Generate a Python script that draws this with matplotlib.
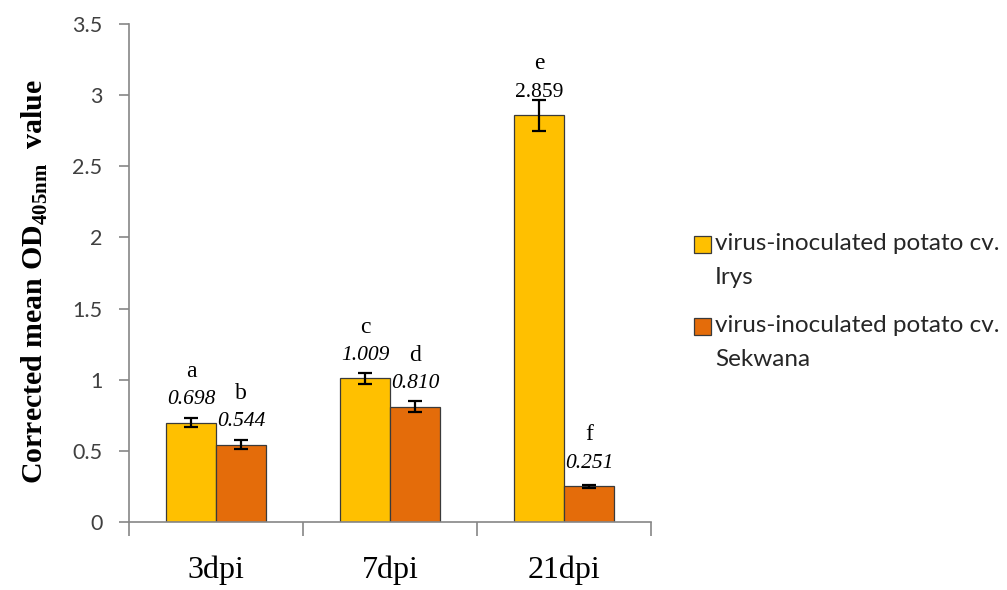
import numpy as np
import matplotlib
matplotlib.use("Agg")
from matplotlib import pyplot as plt
from matplotlib.patches import Rectangle

categories = ["3dpi", "7dpi", "21dpi"]
irys = [0.698, 1.009, 2.859]
sekwana = [0.544, 0.810, 0.251]
irys_err = [0.03, 0.04, 0.11]
sekwana_err = [0.03, 0.04, 0.01]
irys_letters = ["a", "c", "e"]
sekwana_letters = ["b", "d", "f"]
irys_style = ["italic", "italic", "normal"]
sekwana_style = ["italic", "italic", "italic"]
series_names = ["virus-inoculated potato cv.\nIrys", "virus-inoculated potato cv.\nSekwana"]
yticks = [0, 0.5, 1, 1.5, 2, 2.5, 3, 3.5]

plt.rcParams['mathtext.fontset'] = 'custom'
plt.rcParams['mathtext.bf'] = 'Liberation Serif:bold'
plt.rcParams['mathtext.rm'] = 'Liberation Serif'

serif = "Liberation Serif"
sans = "Lato"
axis_gray = "#868686"
colors = ["#FFC000", "#E46C0A"]
edge = "#3a3a3a"

W, H = 1007, 590
fig = plt.figure(figsize=(W / 100, H / 100), dpi=100)
ax = fig.add_axes([129 / W, 68 / H, 522 / W, 498 / H])

x = np.arange(len(categories))
w = 0.287
ekw = dict(ecolor="black", elinewidth=1.6, capsize=4.8, capthick=1.6)
ax.bar(x - w / 2, irys, w, color=colors[0], edgecolor=edge, linewidth=0.9,
       yerr=irys_err, error_kw=ekw, zorder=2)
ax.bar(x + w / 2, sekwana, w, color=colors[1], edgecolor=edge, linewidth=0.9,
       yerr=sekwana_err, error_kw=ekw, zorder=2)

# value labels and significance letters
for xs, vals, lets, sty in [(x - w / 2, irys, irys_letters, irys_style),
                            (x + w / 2, sekwana, sekwana_letters, sekwana_style)]:
    for xi, v, l, st in zip(xs, vals, lets, sty):
        ax.annotate("%.3f" % v, (xi, v), xytext=(0, 16.5), textcoords="offset points",
                    ha="center", va="center", fontsize=15.5, family=serif, style=st, zorder=3)
        ax.annotate(l, (xi, v), xytext=(0, 37), textcoords="offset points",
                    ha="center", va="center", fontsize=17, family=serif, zorder=3)

ax.set_xlim(-0.5, len(categories) - 0.5)
ax.set_ylim(0, 3.5)
ax.set_yticks(yticks)
ax.set_yticklabels([("%g" % t) for t in yticks], family=sans, fontsize=15.5, color="#404040")

ax.set_xticks(np.arange(len(categories) + 1) - 0.5)
ax.set_xticklabels([])
ax.set_xticks(x, minor=True)
ax.set_xticklabels(categories, minor=True, family=serif, fontsize=23)
ax.tick_params(axis="x", which="minor", length=0, pad=24)
ax.tick_params(axis="x", which="major", length=10, color=axis_gray, width=1.2)
ax.tick_params(axis="y", length=7, color=axis_gray, width=1.2, pad=12)

for s in ["top", "right"]:
    ax.spines[s].set_visible(False)
for s in ["left", "bottom"]:
    ax.spines[s].set_color(axis_gray)
    ax.spines[s].set_linewidth(1.2)

ax.set_ylabel(r"Corrected mean OD$_{\mathbf{405nm}}$  value", family=serif,
              fontweight="bold", fontsize=21.5)
ax.yaxis.set_label_coords(-0.152, 0.482)

# legend: square beside the first line of each label
legend_top = [244, 326]
line_gap = 34
for name, c, y0 in zip(series_names, colors, legend_top):
    fig.patches.append(Rectangle((694 / W, 1 - (y0 + 8.5) / H), 17 / W, 17 / H,
                                 facecolor=c, edgecolor=edge, linewidth=0.9,
                                 transform=fig.transFigure))
    for i, line in enumerate(name.split("\n")):
        fig.text(715 / W, 1 - (y0 + i * line_gap) / H, line, family=sans, fontsize=17.5,
                 color="#262626", ha="left", va="center")

plt.savefig("out.png", dpi=100)
